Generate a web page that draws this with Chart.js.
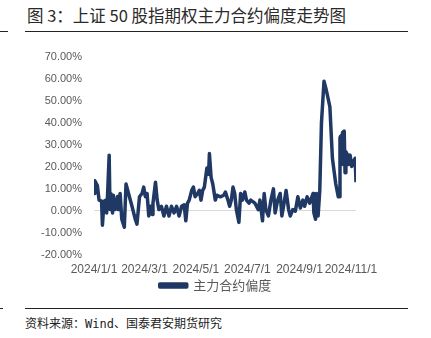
<!DOCTYPE html>
<html>
<head>
<meta charset="utf-8">
<script src="https://cdn.jsdelivr.net/npm/chart.js@4"></script>
<style>
  html, body { margin: 0; padding: 0; background: #fff; }
  body { width: 431px; height: 338px; position: relative; overflow: hidden; font-family: "Noto Sans CJK SC", sans-serif; }
  #title { position: absolute; left: 27px; top: 3px; font-size: 16.5px; color: #2a2a2a; white-space: nowrap; }
  .rule { position: absolute; height: 1px; background: #222; }
  #box { position: absolute; left: 0; top: 38px; width: 431px; height: 264px; }
  #source { position: absolute; left: 25px; top: 314px; font-size: 12px; color: #222; white-space: nowrap; }
</style>
</head>
<body>
<div id="title">图 3：上证 50 股指期权主力合约偏度走势图</div>
<div class="rule" style="left:0;width:8px;top:31px"></div>
<div class="rule" style="left:25px;width:383px;top:31px"></div>
<div id="box"><canvas id="skewChart"></canvas></div>
<div class="rule" style="left:0;width:3px;top:308px"></div>
<div class="rule" style="left:25px;width:383px;top:308px"></div>
<div id="source">资料来源：<span style="font-family:'DejaVu Sans Mono',monospace">Wind</span>、国泰君安期货研究</div>

<script>
// 2024 dates (MM-DD) and main-contract skew (%)
const dates = [
  "01-01", "01-02", "01-05", "01-07", "01-10", "01-11", "01-13", "01-15", "01-16", "01-17",
  "01-19", "01-20", "01-21", "01-23", "01-24", "01-26", "01-29", "01-30", "02-01", "02-03",
  "02-06", "02-08", "02-11", "02-15", "02-19", "02-21", "02-24", "02-27", "02-29", "03-02",
  "03-04", "03-06", "03-08", "03-10", "03-11", "03-14", "03-16", "03-18", "03-21", "03-24",
  "03-27", "03-30", "04-02", "04-05", "04-08", "04-11", "04-14", "04-17", "04-19", "04-21",
  "04-23", "04-26", "04-28", "04-30", "05-03", "05-05", "05-07", "05-09", "05-11", "05-14",
  "05-16", "05-17", "05-19", "05-21", "05-24", "05-26", "05-30", "06-03", "06-05", "06-08",
  "06-10", "06-12", "06-14", "06-16", "06-18", "06-21", "06-23", "06-25", "06-28", "06-30",
  "07-03", "07-05", "07-10", "07-14", "07-16", "07-19", "07-21", "07-23", "07-26", "07-29",
  "08-01", "08-03", "08-06", "08-09", "08-11", "08-13", "08-16", "08-19", "08-21", "08-24",
  "08-27", "08-30", "09-02", "09-05", "09-07", "09-10", "09-13", "09-17", "09-18", "09-20",
  "09-21", "09-23", "09-25", "09-27", "09-30", "10-03", "10-07", "10-10", "10-12", "10-14",
  "10-17", "10-18", "10-19", "10-20", "10-21", "10-22", "10-24", "10-25", "10-26", "10-28",
  "10-29", "10-31", "11-02", "11-04", "11-06", "11-07"
];
const skew = [
  7.9, 13.7, 11.5, 4.9, 4.4, -6.5, 4.4, 4.9, -0.9, 6.5,
  25.3, 0.6, 7.9, -0.9, 7.1, 0.6, 6.5, 0.6, 7.9, -3.8,
  -7.4, 12.2, 7.9, 2.2, -3.8, -6.0, 6.4, 7.9, 10.8, 6.4,
  7.9, -2.3, 2.1, -1.6, 3.5, 13.0, 4.9, 0.6, 2.1, -2.3,
  2.1, -2.3, 2.1, -0.9, 2.1, -2.3, 2.1, 2.8, -4.5, 3.5,
  4.9, 9.3, 10.8, 6.4, 7.9, 9.3, 4.9, 9.3, 10.8, 19.5,
  16.6, 26.0, 15.2, 12.2, 4.9, 7.1, 6.4, 7.1, 8.6, 4.9,
  2.1, 4.9, 10.8, 7.9, 0.6, -5.2, 7.9, 4.9, 8.6, 4.9,
  3.5, 4.9, 3.5, 0.6, 4.9, -4.5, 7.9, 0.6, -2.3, 4.9,
  10.0, -0.9, 4.9, 7.9, -2.3, 2.1, 9.3, 0.6, -2.3, 0.6,
  -0.1, 6.4, 1.3, 4.9, 2.1, 6.4, 3.5, 7.9, -0.9, -3.8,
  7.9, -2.3, 9.3, 39.9, 58.8, 54.4, 47.2, 23.9, 18.0, 12.2,
  6.4, 6.4, 33.3, 34.0, 21.0, 35.5, 36.2, 17.3, 26.8, 25.3,
  21.0, 25.3, 20.2, 22.4, 23.9, 13.0
];
// x-axis labels shown every two months
const tickDates = ["01-01", "03-01", "05-01", "07-01", "09-01", "11-01"];

const yTicks = { min: -20, max: 70, step: 10 };
const lineColor = "#203864";
const textColor = "#595959";

function dayOfYear(md) {
  const [m, d] = md.split("-").map(Number);
  return (Date.UTC(2024, m - 1, d) - Date.UTC(2024, 0, 1)) / 86400000;
}

const points = dates.map((d, i) => ({ x: dayOfYear(d), y: skew[i] }));
const tickDays = tickDates.map(dayOfYear);

Chart.defaults.font.family = "'Liberation Sans', Arial, sans-serif";

new Chart(document.getElementById("skewChart").getContext("2d"), {
  type: "line",
  data: {
    datasets: [
      {
        label: "主力合约偏度",
        data: points,
        borderColor: lineColor,
        backgroundColor: lineColor,
        borderWidth: 3.5,
        pointRadius: 0,
        tension: 0,
        borderJoinStyle: "round",
      },
    ],
  },
  options: {
    responsive: true,
    maintainAspectRatio: false,
    animation: false,
    layout: { padding: { left: 0, right: 0, top: 0, bottom: 0 } },
    plugins: {
      tooltip: { enabled: false },
      legend: {
        position: "bottom",
        labels: {
          boxWidth: 27,
          boxHeight: 3,
          padding: 3,
          color: textColor,
          font: { size: 13, family: "'Noto Sans CJK SC', sans-serif" },
        },
      },
    },
    scales: {
      x: {
        type: "linear",
        min: 0,
        max: 311,
        afterBuildTicks: (scale) => {
          scale.ticks = tickDays.map((v) => ({ value: v }));
        },
        afterFit: (scale) => {
          scale.height = 21;
        },
        ticks: {
          autoSkip: false,
          maxRotation: 0,
          minRotation: 0,
          padding: 7,
          color: textColor,
          font: { size: 12 },
          callback: (v) => {
            const dt = new Date(Date.UTC(2024, 0, 1) + v * 86400000);
            return `2024/${dt.getUTCMonth() + 1}/${dt.getUTCDate()}`;
          },
        },
        grid: { display: false, drawTicks: false },
        border: { display: false },
      },
      y: {
        min: yTicks.min,
        max: yTicks.max,
        afterFit: (scale) => {
          scale.width = 94;
        },
        ticks: {
          stepSize: yTicks.step,
          padding: 12,
          color: textColor,
          font: { size: 11 },
          callback: (v) => v.toFixed(2) + "%",
        },
        grid: {
          drawTicks: false,
          color: (ctx) => (ctx.tick && ctx.tick.value === 0 ? "#d9d9d9" : "rgba(0,0,0,0)"),
        },
        border: { display: false },
      },
      // empty right-hand axis that only reserves the white margin
      yRight: {
        position: "right",
        afterFit: (scale) => {
          scale.width = 75;
        },
        ticks: { display: false },
        grid: { display: false },
        border: { display: false },
      },
    },
  },
});
</script>
</body>
</html>
